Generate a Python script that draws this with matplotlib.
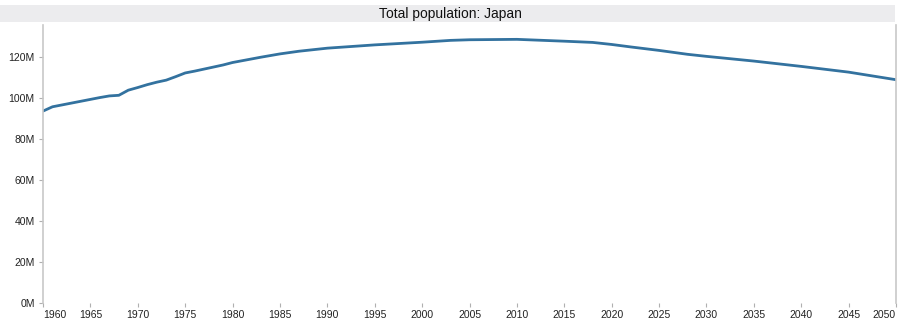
import matplotlib
matplotlib.use("Agg")
import matplotlib.pyplot as plt
from matplotlib.patches import Rectangle

plt.rcParams['font.family'] = ['Liberation Sans', 'DejaVu Sans']

# Japan total population (millions)
years = [1960, 1961, 1962, 1963, 1964, 1965, 1966, 1967, 1968, 1969,
         1970, 1971, 1972, 1973, 1974, 1975, 1976, 1977, 1978, 1979,
         1980, 1983, 1985, 1987, 1990, 1995, 2000, 2003, 2005, 2010,
         2015, 2018, 2020, 2022, 2025, 2028, 2030, 2035, 2040, 2045, 2050]
pop = [93.5, 95.6, 96.5, 97.4, 98.3, 99.2, 100.1, 100.9, 101.2, 103.7,
       105.0, 106.4, 107.6, 108.6, 110.3, 112.1, 113.0, 114.0, 115.0, 116.0,
       117.2, 119.8, 121.4, 122.7, 124.2, 125.8, 127.1, 128.0, 128.3, 128.5,
       127.6, 127.0, 126.0, 124.8, 123.1, 121.2, 120.2, 117.9, 115.3, 112.5, 108.8]

xticks = list(range(1960, 2051, 5))
yticks = [0, 20, 40, 60, 80, 100, 120]
title = "Total population: Japan"

fig = plt.figure(figsize=(9, 3.23), dpi=100)
ax = fig.add_axes([0.0478, 0.0628, 0.9478, 0.8598])

# grey title band
fig.patches.append(Rectangle((0.0, 0.932), 0.9944, 0.0525, transform=fig.transFigure,
                             facecolor='#ececee', edgecolor='none', zorder=0))
fig.text(0.5, 0.957, title, ha='center', va='center', fontsize=10, color='#111111')

ax.plot(years, pop, color='#33729f', linewidth=2.0, solid_capstyle='round')

ax.set_xlim(1960, 2050)
ax.set_ylim(0, 135.5)

ax.set_yticks(yticks)
ax.set_yticklabels(['%dM' % v for v in yticks])
ax.set_xticks(xticks)
ax.set_xticklabels([str(v) for v in xticks])
lbls = ax.get_xticklabels()
lbls[0].set_horizontalalignment('left')
lbls[-1].set_horizontalalignment('right')

for s in ['top', 'bottom']:
    ax.spines[s].set_visible(False)
for s in ['left', 'right']:
    ax.spines[s].set_color('#c8c8c8')
    ax.spines[s].set_linewidth(1.2)

ax.tick_params(axis='both', colors='#b0b0b0', labelcolor='#222222',
               labelsize=7.5, length=3, width=0.8, pad=2)
ax.tick_params(axis='y', pad=3)

fig.savefig('out.png', dpi=100)
